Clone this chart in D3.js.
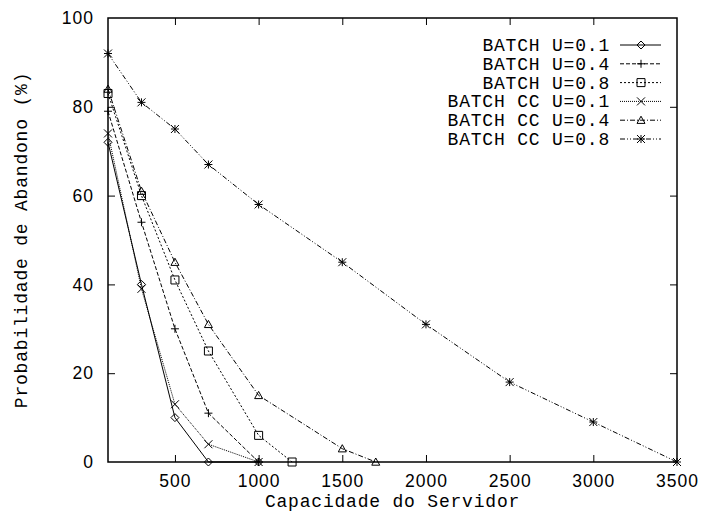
<!DOCTYPE html>
<html>
<head>
<meta charset="utf-8">
<script src="https://cdn.jsdelivr.net/npm/d3@7"></script>
<style>
  body { margin: 0; background: #fff; }
  svg { display: block; }
</style>
</head>
<body>
<svg id="chart" width="702" height="512"></svg>
<script>
// capacity values per series
const capBatch01 = [100, 300, 500, 700, 1000];
const probBatch01 = [72, 40, 10, 0, 0];
const capBatch04 = [100, 300, 500, 700, 1000];
const probBatch04 = [79, 54, 30, 11, 0];
const capBatch08 = [100, 300, 500, 700, 1000, 1200];
const probBatch08 = [83, 60, 41, 25, 6, 0];
const capCC01 = [100, 300, 500, 700, 1000];
const probCC01 = [74, 39, 13, 4, 0];
const capCC04 = [100, 300, 500, 700, 1000, 1500, 1700];
const probCC04 = [84, 61, 45, 31, 15, 3, 0];
const capCC08 = [100, 300, 500, 700, 1000, 1500, 2000, 2500, 3000, 3500];
const probCC08 = [92, 81, 75, 67, 58, 45, 31, 18, 9, 0];

const seriesNames = ['BATCH U=0.1', 'BATCH U=0.4', 'BATCH U=0.8',
  'BATCH CC U=0.1', 'BATCH CC U=0.4', 'BATCH CC U=0.8'];
const xTicks = [500, 1000, 1500, 2000, 2500, 3000, 3500];
const yTicks = [0, 20, 40, 60, 80, 100];

const series = [
  { name: seriesNames[0], xs: capBatch01, ys: probBatch01, dash: null, marker: 'diamond' },
  { name: seriesNames[1], xs: capBatch04, ys: probBatch04, dash: '4,2', marker: 'plus' },
  { name: seriesNames[2], xs: capBatch08, ys: probBatch08, dash: '2,2', marker: 'square' },
  { name: seriesNames[3], xs: capCC01, ys: probCC01, dash: '1,1', marker: 'cross' },
  { name: seriesNames[4], xs: capCC04, ys: probCC04, dash: '5,2,1,2', marker: 'triangle' },
  { name: seriesNames[5], xs: capCC08, ys: probCC08, dash: '5,2,1,2,1,2', marker: 'star' },
];

const plotLeft = 108, plotRight = 677, plotTop = 18, plotBottom = 462;
const svg = d3.select('#chart');

const x = d3.scaleLinear().domain([100, 3500]).range([plotLeft, plotRight]);
const y = d3.scaleLinear().domain([0, 100]).range([plotBottom, plotTop]);

const tickFont = '"Liberation Sans", Arial, sans-serif';
const monoFont = '"Liberation Mono", "Courier New", monospace';

// ticks on all four sides, pointing inward
const gx = svg.append('g').attr('transform', `translate(0,${plotBottom})`)
  .call(d3.axisBottom(x).tickValues(xTicks).tickFormat(d3.format('d')).tickSize(-7).tickPadding(13));
const gxTop = svg.append('g').attr('transform', `translate(0,${plotTop})`)
  .call(d3.axisTop(x).tickValues(xTicks).tickSize(-7).tickFormat(''));
const gy = svg.append('g').attr('transform', `translate(${plotLeft},0)`)
  .call(d3.axisLeft(y).tickValues(yTicks).tickFormat(d3.format('d')).tickSize(-7).tickPadding(14));
const gyRight = svg.append('g').attr('transform', `translate(${plotRight},0)`)
  .call(d3.axisRight(y).tickValues(yTicks).tickSize(-7).tickFormat(''));

[gx, gxTop, gy, gyRight].forEach(function (g) {
  g.select('.domain').remove();
  g.selectAll('line').attr('stroke', '#000').attr('stroke-width', 1);
  g.selectAll('text').attr('font-family', tickFont).attr('font-size', 17.5)
    .attr('letter-spacing', 1).attr('fill', '#000');
});
gy.selectAll('line').filter(function (d) { return d === 0 || d === 100; }).remove();
gyRight.selectAll('line').filter(function (d) { return d === 0 || d === 100; }).remove();
gxTop.selectAll('line').filter(function (d) { return d === 3500; }).remove();
gx.selectAll('line').filter(function (d) { return d === 3500; }).remove();

svg.append('rect')
  .attr('x', plotLeft).attr('y', plotTop)
  .attr('width', plotRight - plotLeft).attr('height', plotBottom - plotTop)
  .attr('fill', 'none').attr('stroke', '#000').attr('stroke-width', 1.5);

function markerPath(type, s) {
  const h = s / 2;
  switch (type) {
    case 'diamond': return `M0,${-h}L${h},0L0,${h}L${-h},0Z`;
    case 'plus': return `M${-h},0H${h}M0,${-h}V${h}`;
    case 'square': return `M${-h},${-h}H${h}V${h}H${-h}Z`;
    case 'cross': return `M${-h},${-h}L${h},${h}M${-h},${h}L${h},${-h}`;
    case 'triangle': return `M0,${-h}L${h},${h * 0.8}L${-h},${h * 0.8}Z`;
    case 'star': return `M${-h},0H${h}M0,${-h}V${h}M${-h},${-h}L${h},${h}M${-h},${h}L${h},${-h}`;
  }
}

const line = d3.line().x(function (d) { return x(d[0]); }).y(function (d) { return y(d[1]); });

series.forEach(function (s) {
  const pts = s.xs.map(function (v, i) { return [v, s.ys[i]]; });
  svg.append('path')
    .attr('d', line(pts))
    .attr('fill', 'none')
    .attr('stroke', '#000')
    .attr('stroke-width', 1)
    .attr('stroke-dasharray', s.dash);
  svg.append('g').selectAll('path')
    .data(pts)
    .enter()
    .append('path')
    .attr('transform', function (d) { return `translate(${x(d[0])},${y(d[1])})`; })
    .attr('d', markerPath(s.marker, 8))
    .attr('fill', 'none')
    .attr('stroke', '#000')
    .attr('stroke-width', 1);
});

// legend
const legend = svg.append('g');
series.forEach(function (s, i) {
  const ly = 45 + i * 18.8;
  legend.append('text')
    .attr('x', 610).attr('y', ly + 6)
    .attr('text-anchor', 'end')
    .attr('font-family', monoFont).attr('font-size', 18)
    .attr('letter-spacing', 0.8)
    .text(s.name);
  legend.append('line')
    .attr('x1', 620).attr('x2', 661).attr('y1', ly).attr('y2', ly)
    .attr('stroke', '#000').attr('stroke-width', 1)
    .attr('stroke-dasharray', s.dash);
  legend.append('path')
    .attr('transform', `translate(641,${ly})`)
    .attr('d', markerPath(s.marker, 8))
    .attr('fill', 'none').attr('stroke', '#000');
});

svg.append('text')
  .attr('x', (plotLeft + plotRight) / 2).attr('y', 507)
  .attr('text-anchor', 'middle')
  .attr('font-family', monoFont).attr('font-size', 18)
  .attr('letter-spacing', 0.8)
  .text('Capacidade do Servidor');

svg.append('text')
  .attr('transform', `translate(27,${(plotTop + plotBottom) / 2}) rotate(-90)`)
  .attr('text-anchor', 'middle')
  .attr('font-family', monoFont).attr('font-size', 18)
  .attr('letter-spacing', 0.8)
  .text('Probabilidade de Abandono (%)');
</script>
</body>
</html>
